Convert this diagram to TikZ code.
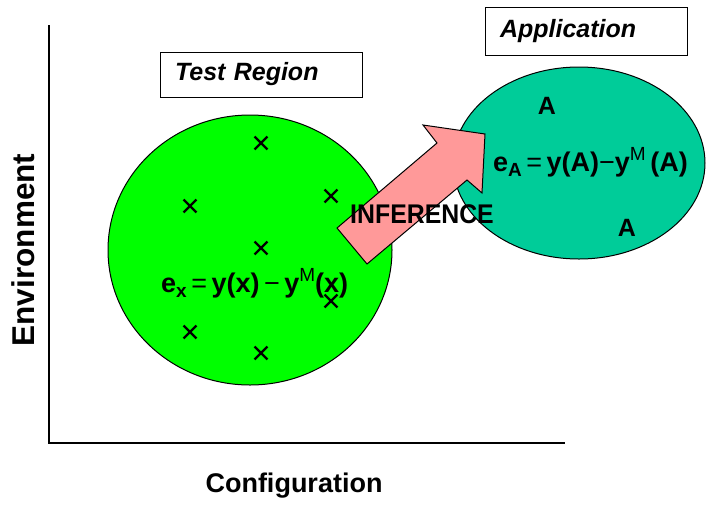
\documentclass[tikz,border=0pt]{standalone}
\usepackage{fontspec}
\setmainfont{Liberation Sans}
\usetikzlibrary{shapes.geometric,shapes.misc}
\definecolor{brightgreen}{HTML}{00FF00}
\definecolor{teal2}{HTML}{00CC99}
\definecolor{pinkarrow}{HTML}{FF9999}
\tikzset{
  axis/.style={line width=1.3pt},
  label/.style={font=\fontsize{27}{27}\selectfont\bfseries, inner sep=0},
  titlebox/.style={draw, line width=1pt, fill=white, inner sep=0, minimum width=202, minimum height=45, font=\fontsize{25}{25}\selectfont\bfseries\itshape},
  xmark/.style={cross out, draw, line width=2.4pt, minimum size=10.5, inner sep=0},
  formula/.style={font=\fontsize{27}{27}\selectfont\bfseries, inner sep=0},
  amark/.style={font=\fontsize{25}{25}\selectfont\bfseries, inner sep=0},
}
\begin{document}
\begin{tikzpicture}[x=1pt,y=-1pt]
\useasboundingbox (0,0) rectangle (707,504);
% axes
\coordinate (top) at (49,25);
\coordinate (origin) at (49,443);
\coordinate (right) at (565,443);
\draw[axis] (top) -- (origin) -- (right);
\node[label, rotate=90, font=\fontsize{31.5}{31.5}\selectfont\bfseries] (env) at (23,250) {Environment};
\node[label] (conf) at (294,486) {Configuration};
% ellipses
\node[ellipse, draw, line width=1pt, fill=brightgreen, inner sep=0, minimum width=284, minimum height=270] (test) at (250,250) {};
\node[ellipse, draw, line width=1pt, fill=teal2, inner sep=0, minimum width=252, minimum height=192] (app) at (579,163) {};
% title boxes
\node[titlebox, text width=172, align=left] (tr) at (261,74.5) {Test Region};
\node[titlebox, minimum height=48, text width=172, align=left] (ap) at (586,31) {Application};
% crosses
\node[xmark] (c1) at (261,143) {};
\node[xmark] (c2) at (190,206) {};
\node[xmark] (c3) at (331,196) {};
\node[xmark] (c4) at (261,248) {};
\node[xmark] (c5) at (331,301) {};
\node[xmark] (c6) at (190,332) {};
\node[xmark] (c7) at (261,353) {};
% arrow
\draw[line width=1pt, fill=pinkarrow, line join=miter]
  (337,228) -- (437,143) -- (423,125) -- (485,134) -- (482,193) -- (467,180) -- (367,264) -- cycle;
\node[font=\fontsize{27}{27}\selectfont\bfseries, inner sep=0, xscale=0.92] (inf) at (422,214) {INFERENCE};
% formulas
\node[formula, anchor=west] (ex) at (161,283) {e\raisebox{-5pt}{\fontsize{19}{19}\selectfont x}\,{\mdseries=}\,y(x)\,{\mdseries−}\,y\raisebox{11pt}{\mdseries\fontsize{19}{19}\selectfont M}(x)};
\node[formula, anchor=west] (ea) at (493,162) {e\raisebox{-5pt}{\fontsize{19}{19}\selectfont A}\,{\mdseries=}\,y(A){\mdseries−}y\raisebox{11pt}{\mdseries\fontsize{19}{19}\selectfont M}\,(A)};
\node[amark] (a1) at (547,106) {A};
\node[amark] (a2) at (627,228) {A};
\end{tikzpicture}
\end{document}
